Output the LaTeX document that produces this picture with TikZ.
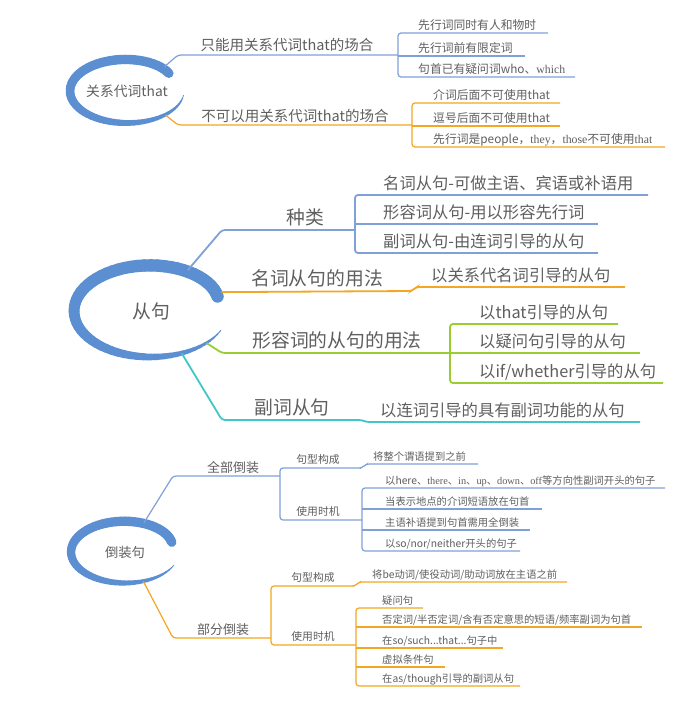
\documentclass[tikz,border=0pt]{standalone}
\usepackage{fontspec}
\setmainfont{Noto Sans CJK SC}
\newfontfamily\latinserif{Liberation Serif}
\usetikzlibrary{shapes.geometric}

\definecolor{bl}{RGB}{128,160,216}
\definecolor{swb}{RGB}{91,143,209}
\definecolor{og}{RGB}{245,166,35}
\definecolor{gr}{RGB}{154,205,50}
\definecolor{tq}{RGB}{64,200,200}
\definecolor{txt}{RGB}{95,95,95}

% brush ring round a root: cx, cy, rx, ry, start angle, max width
\newcommand{\brushring}[6]{%
  \foreach \i in {0,...,62}{%
    \pgfmathsetmacro\aa{#5+5*\i}
    \pgfmathsetmacro\ff{1-0.08*exp(-\i/6)}
    \pgfmathsetmacro\gg{1-0.08*exp(-(\i+1)/6)}
    \pgfmathsetmacro\ww{#6*(1-(\i/63)^3)+0.4}
    \draw[swb, line width=\ww pt, line cap=round]
      ({#1+#3*\ff*cos(\aa)},{#2-#4*\ff*sin(\aa)}) --
      ({#1+#3*\gg*cos(\aa+5)},{#2-#4*\gg*sin(\aa+5)});
  }}

\tikzset{
  root/.style={ellipse, inner sep=0pt, text=txt},
  mid/.style={anchor=base, inner sep=0pt, text=txt},
  leaf/.style={anchor=base west, inner sep=0pt, text=txt},
  ln/.style={line width=1.2pt, rounded corners=3pt},
  lnB/.style={line width=1.8pt, rounded corners=3pt},
  leafA/.style={leaf, font=\fontsize{11.8}{12}\selectfont, yshift=3.5pt},
  midA/.style={mid, font=\fontsize{14.5}{15}\selectfont, yshift=4pt},
  leafB/.style={leaf, font=\fontsize{16.3}{17}\selectfont, yshift=5.5pt},
  midB/.style={mid, font=\fontsize{18.8}{19}\selectfont, yshift=6pt},
  leafC/.style={leaf, font=\fontsize{10.3}{11}\selectfont, yshift=4pt},
  midC/.style={mid, font=\fontsize{13}{14}\selectfont, yshift=4pt},
  subC/.style={mid, font=\fontsize{10.8}{11}\selectfont, yshift=5pt}
}

\begin{document}
\begin{tikzpicture}[x=1pt, y=-1pt]
\useasboundingbox (0,0) rectangle (697,717);
\fill[white] (0,0) rectangle (697,717);

% 关系代词that
\node[root, minimum width=114pt, minimum height=64pt, font=\fontsize{13.8}{14}\selectfont] (r1) at (127,91) {关系代词that};
\brushring{127}{91}{57}{32}{37}{9}

\coordinate (k1) at (178,55);
\coordinate (j1) at (398,55);
\draw[ln, bl] (r1.33) -- (k1) -- (j1);
\node[midA] (p1) at (287,55) {只能用关系代词that的场合};
\node[leafA] (c11) at (418,33) {先行词同时有人和物时};
\node[leafA] (c12) at (418,56) {先行词前有限定词};
\node[leafA] (c13) at (418,77) {句首已有疑问词who、{\latinserif which}};
\coordinate (e11) at (548,33);
\coordinate (e12) at (525,56);
\coordinate (e13) at (575,77);
\draw[ln, bl] (e11) -- (j1 |- e11) -- (j1 |- e13) -- (e13);
\draw[ln, bl] (j1 |- e12) -- (e12);

\coordinate (k2) at (178,125);
\coordinate (j2) at (412,125);
\draw[ln, og] (r1.-32) -- (k2) -- (j2);
\node[midA] (p2) at (295,125) {不可以用关系代词that的场合};
\node[leafA] (c21) at (433,103) {介词后面不可使用that};
\node[leafA] (c22) at (433,126) {逗号后面不可使用that};
\node[leafA] (c23) at (433,147) {先行词是people，{\latinserif they}，{\latinserif those}不可使用{\latinserif that}};
\coordinate (e21) at (560,103);
\coordinate (e22) at (560,126);
\coordinate (e23) at (665,147);
\draw[ln, og] (e21) -- (j2 |- e21) -- (j2 |- e23) -- (e23);
\draw[ln, og] (j2 |- e22) -- (e22);

% 从句
\node[root, minimum width=154pt, minimum height=92pt, font=\fontsize{18.8}{19}\selectfont] (r2) at (151,311) {从句};
\brushring{151}{311}{77}{46}{20}{12}

\coordinate (k3) at (222,230);
\coordinate (j3) at (355,230);
\draw[lnB, bl] (r2.48) -- (k3) -- (j3);
\node[midB] (p3) at (305,230) {种类};
\node[leafB] (c31) at (383,195) {名词从句-可做主语、宾语或补语用};
\node[leafB] (c32) at (383,224) {形容词从句-用以形容先行词};
\node[leafB] (c33) at (383,253) {副词从句-由连词引导的从句};
\coordinate (e31) at (648,195);
\coordinate (e32) at (598,224);
\coordinate (e33) at (598,253);
\draw[lnB, bl] (e31) -- (j3 |- e31) -- (j3 |- e33) -- (e33);
\draw[lnB, bl] (j3 |- e32) -- (e32);

\coordinate (k4) at (412,291);
\coordinate (e41) at (625,287);
\draw[lnB, og] (r2.15) -- (k4) -- (416,287) -- (e41);
\node[midB] (p4) at (317,291) {名词从句的用法};
\node[leafB] (c41) at (431,287) {以关系代名词引导的从句};

\coordinate (k5) at (222,353);
\coordinate (j5) at (450,353);
\draw[lnB, gr] (r2.-30) -- (k5) -- (j5);
\node[midB] (p5) at (337,353) {形容词的从句的用法};
\node[leafB] (c51) at (479,324) {以that引导的从句};
\node[leafB] (c52) at (479,353) {以疑问句引导的从句};
\node[leafB] (c53) at (479,383) {以if/whether引导的从句};
\coordinate (e51) at (618,324);
\coordinate (e52) at (640,353);
\coordinate (e53) at (663,383);
\draw[lnB, gr] (e51) -- (j5 |- e51) -- (j5 |- e53) -- (e53);
\draw[lnB, gr] (j5 |- e52) -- (e52);

\coordinate (k6) at (222,420);
\coordinate (e61) at (640,422);
\draw[lnB, tq] (r2.-54) -- (k6) -- (362,420) -- (366,422) -- (e61);
\node[midB] (p6) at (292,420) {副词从句};
\node[leafB] (c61) at (380,422) {以连词引导的具有副词功能的从句};

% 倒装句
\node[root, minimum width=108pt, minimum height=62pt, font=\fontsize{13.3}{14}\selectfont] (r3) at (125,552) {倒装句};
\brushring{125}{552}{54}{31}{20}{9}

\coordinate (k7) at (173,476);
\coordinate (j7) at (280,476);
\draw[ln, bl] (r3.57) -- (k7) -- (j7);
\node[midC] (p7) at (233,476) {全部倒装};
\coordinate (t7) at (280,468);
\coordinate (e71) at (478,464);
\coordinate (j8) at (362,520);
\draw[ln, bl] (e71) -- (366,464) -- (362,468) -- (t7) -- (t7 |- j8) -- (j8);
\node[subC] (q71) at (318,468) {句型构成};
\node[subC] (q72) at (318,520) {使用时机};
\node[leafC] (c71) at (373,464) {将整个谓语提到之前};
\node[leafC] (c81) at (385,488) {以here、{\latinserif there}、{\latinserif in}、{\latinserif up}、{\latinserif down}、{\latinserif off}等方向性副词开头的句子};
\node[leafC] (c82) at (385,509) {当表示地点的介词短语放在句首};
\node[leafC] (c83) at (385,530) {主语补语提到句首需用全倒装};
\node[leafC] (c84) at (385,551) {以so/nor/neither开头的句子};
\coordinate (e81) at (665,488);
\coordinate (e82) at (542,509);
\coordinate (e83) at (530,530);
\coordinate (e84) at (520,551);
\draw[ln, bl] (e81) -- (j8 |- e81) -- (j8 |- e84) -- (e84);
\draw[ln, bl] (j8 |- e82) -- (e82);
\draw[ln, bl] (j8 |- e83) -- (e83);

\coordinate (k9) at (173,638);
\coordinate (j9) at (271,638);
\draw[ln, og] (r3.-58) -- (k9) -- (j9);
\node[midC] (p9) at (223,638) {部分倒装};
\coordinate (t9) at (271,586);
\coordinate (e91) at (567,582);
\coordinate (j10) at (356,645);
\draw[ln, og] (e91) -- (359,582) -- (355,586) -- (t9) -- (t9 |- j10) -- (j10);
\node[subC] (q91) at (313,586) {句型构成};
\node[subC] (q92) at (313,645) {使用时机};
\node[leafC] (c91) at (372,582) {将be动词/使役动词/助动词放在主语之前};
\node[leafC] (c101) at (382,608) {疑问句};
\node[leafC] (c102) at (382,627) {否定词/半否定词/含有否定意思的短语/频率副词为句首};
\node[leafC] (c103) at (382,648) {在so/such...that...句子中};
\node[leafC] (c104) at (382,667) {虚拟条件句};
\node[leafC] (c105) at (382,686) {在as/though引导的副词从句};
\coordinate (e101) at (423,608);
\coordinate (e102) at (642,627);
\coordinate (e103) at (503,648);
\coordinate (e104) at (445,667);
\coordinate (e105) at (520,686);
\draw[ln, og] (e101) -- (j10 |- e101) -- (j10 |- e105) -- (e105);
\draw[ln, og] (j10 |- e102) -- (e102);
\draw[ln, og] (j10 |- e103) -- (e103);
\draw[ln, og] (j10 |- e104) -- (e104);
\end{tikzpicture}
\end{document}
